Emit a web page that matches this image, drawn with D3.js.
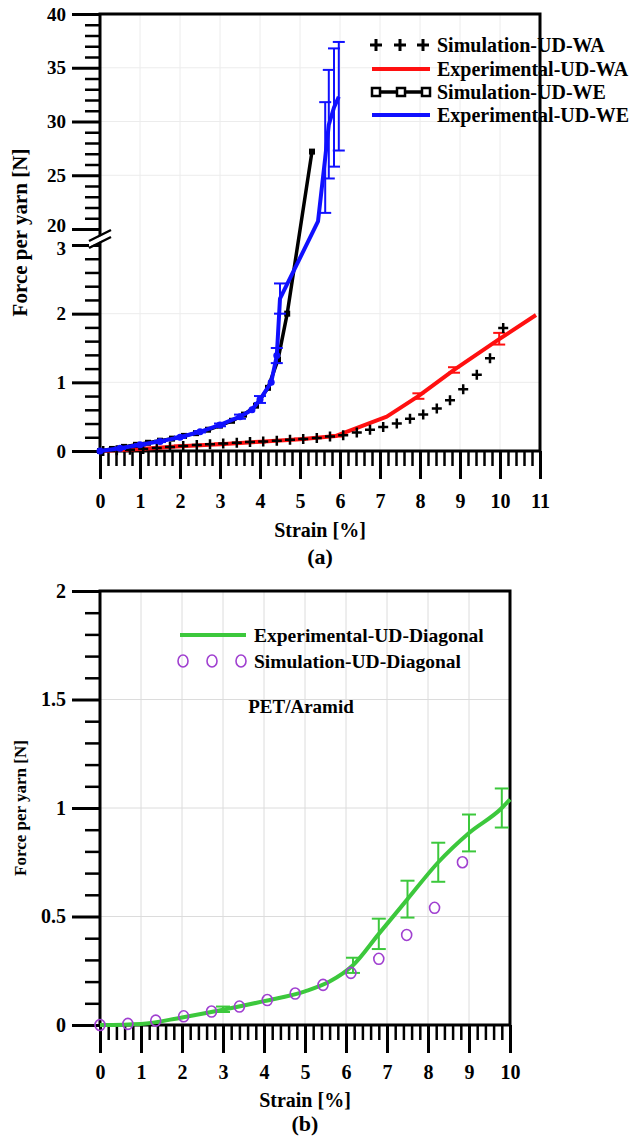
<!DOCTYPE html>
<html>
<head>
<meta charset="utf-8">
<script src="https://cdn.jsdelivr.net/npm/d3@7"></script>
<style>
  body { margin: 0; background: #fff; }
  svg { display: block; }
  text { font-family: "Liberation Serif", "Times New Roman", serif; font-weight: bold; fill: #000; }
</style>
</head>
<body>
<svg id="chart" width="633" height="1136"></svg>
<script>
// ---- panel (a) data ----
const waSimStrain = [0.08, 0.42, 0.75, 1.08, 1.42, 1.75, 2.08, 2.42, 2.75, 3.08, 3.42, 3.75, 4.08, 4.42, 4.75, 5.08, 5.42, 5.75, 6.08, 6.42, 6.75, 7.08, 7.42, 7.75, 8.08, 8.42, 8.75, 9.08, 9.42, 9.75, 10.08];
const waSimForce  = [0, 0.01, 0.02, 0.03, 0.045, 0.06, 0.073, 0.087, 0.097, 0.11, 0.12, 0.13, 0.14, 0.15, 0.165, 0.175, 0.19, 0.21, 0.23, 0.27, 0.31, 0.35, 0.40, 0.47, 0.53, 0.62, 0.74, 0.90, 1.11, 1.35, 1.79];

const waExpStrain = [0, 1, 2, 3, 4, 5, 5.9, 7.17, 7.96, 8.85, 9.98, 10.9];
const waExpForce  = [0, 0.03, 0.07, 0.1, 0.135, 0.17, 0.22, 0.5, 0.8, 1.18, 1.63, 1.98];
const waExpErr = [[1, 0.02, 0.04], [2, 0.06, 0.08], [3, 0.09, 0.11], [4, 0.125, 0.145], [5, 0.16, 0.18], [5.9, 0.21, 0.23],
                  [7.96, 0.76, 0.84], [8.85, 1.14, 1.22], [9.98, 1.55, 1.72]];

const weSimStrain = [0, 0.3, 0.6, 0.9, 1.2, 1.5, 1.8, 2.1, 2.4, 2.7, 3.0, 3.3, 3.6, 3.9, 4.2, 4.45, 4.68, 5.3];
const weSimForce  = [0, 0.03, 0.06, 0.09, 0.12, 0.15, 0.18, 0.22, 0.26, 0.31, 0.37, 0.44, 0.53, 0.66, 0.92, 1.33, 2.0, 27.2];

const weExpStrain = [0, 0.5, 1, 1.5, 2, 2.5, 3, 3.5, 3.8, 4.0, 4.28, 4.42, 4.5, 5.45, 5.63, 5.72, 5.85, 5.97];
const weExpForce  = [0, 0.04, 0.09, 0.14, 0.2, 0.28, 0.38, 0.5, 0.6, 0.75, 1.0, 1.39, 2.22, 20.7, 26.6, 29.7, 31.3, 32.3];
const weExpErr = [[0.5, 0.03, 0.05], [1, 0.08, 0.1], [1.5, 0.13, 0.15], [2, 0.19, 0.21], [2.5, 0.27, 0.29], [3, 0.36, 0.4],
                  [3.5, 0.47, 0.53], [4.0, 0.7, 0.8], [4.42, 1.28, 1.5], [4.5, 2.0, 2.44],
                  [5.63, 21.5, 31.8], [5.72, 24.7, 34.8], [5.85, 25.8, 36.8], [5.97, 27.3, 37.4]];

const legendA = ["Simulation-UD-WA", "Experimental-UD-WA", "Simulation-UD-WE", "Experimental-UD-WE"];
const yMajorA = [0, 1, 2, 3, 20, 25, 30, 35, 40];

// ---- panel (b) data ----
const diagExpStrain = [0, 1, 2, 3, 4, 5, 5.6, 6.17, 6.8, 7.5, 8.25, 9.0, 9.8, 10];
const diagExpForce  = [0, 0.005, 0.035, 0.07, 0.11, 0.155, 0.2, 0.275, 0.42, 0.58, 0.75, 0.885, 1.0, 1.04];
const diagExpErr = [[3.0, 0.06, 0.085], [6.17, 0.24, 0.31], [6.8, 0.35, 0.49], [7.5, 0.495, 0.665],
                    [8.25, 0.66, 0.84], [9.0, 0.8, 0.97], [9.8, 0.91, 1.09]];

const diagSimStrain = [0, 0.68, 1.36, 2.04, 2.72, 3.4, 4.08, 4.76, 5.44, 6.12, 6.8, 7.48, 8.16, 8.84];
const diagSimForce  = [0, 0.005, 0.02, 0.04, 0.062, 0.085, 0.115, 0.145, 0.185, 0.24, 0.305, 0.415, 0.54, 0.75];

const legendB = ["Experimental-UD-Diagonal", "Simulation-UD-Diagonal"];
const yMajorB = [0, 0.5, 1, 1.5, 2];

const RED = "#ff1010", BLUE = "#1010ff", GREEN = "#3cc83c", PURPLE = "#a040d0";
const FONT = "'Liberation Serif', 'Times New Roman', serif";

const svg = d3.select("#chart");
svg.append("rect").attr("width", 633).attr("height", 1136).attr("fill", "#fff");

const zip = (xs, ys) => xs.map((x, i) => [x, ys[i]]);

function styleAxis(g, width) {
  g.attr("font-family", null).attr("font-size", null);
  g.select(".domain").remove();
  g.selectAll(".tick line").attr("stroke", "#000").attr("stroke-width", width);
  g.selectAll(".tick text").style("font-family", FONT).style("font-size", "20px");
}

function errorBars(g, x, y, rows, color, cap) {
  rows.forEach(([sx, lo, hi]) => {
    const px = x(sx);
    g.append("line").attr("x1", px).attr("x2", px).attr("y1", y(lo)).attr("y2", y(hi))
      .attr("stroke", color).attr("stroke-width", 2);
    [lo, hi].forEach(v => g.append("line").attr("x1", px - cap).attr("x2", px + cap)
      .attr("y1", y(v)).attr("y2", y(v)).attr("stroke", color).attr("stroke-width", 2));
  });
}

function plusMark(g, cx, cy, s, w) {
  g.append("path").attr("d", `M${cx - s},${cy}H${cx + s}M${cx},${cy - s}V${cy + s}`)
    .attr("stroke", "#000").attr("stroke-width", w).attr("fill", "none");
}

// ================= panel (a) =================
const xA = d3.scaleLinear().domain([0, 11]).range([100, 540]);
const yA = d3.scaleLinear().domain([0, 3, 20, 40]).range([451, 245, 229, 14]);
const gA = svg.append("g");

// grid
const gridA = gA.append("g").attr("stroke", "#ececec").attr("stroke-width", 1);
d3.range(1, 11).forEach(v => gridA.append("line").attr("x1", xA(v)).attr("x2", xA(v)).attr("y1", yA(0)).attr("y2", yA(40)));
[1, 2, 25, 30, 35].forEach(v => gridA.append("line").attr("x1", xA(0)).attr("x2", xA(11)).attr("y1", yA(v)).attr("y2", yA(v)));

// axes
const yMinorA = d3.range(0.2, 3, 0.2).filter(v => Math.abs(v - Math.round(v)) > 0.01)
  .concat(d3.range(21, 40).filter(v => v % 5 !== 0));
gA.append("g").attr("transform", "translate(100,0)")
  .call(d3.axisLeft(yA).tickValues(yMinorA).tickSize(15).tickFormat(""))
  .call(g => styleAxis(g, 2.5));
const yAxisA = gA.append("g").attr("transform", "translate(100,0)")
  .call(d3.axisLeft(yA).tickValues(yMajorA).tickSize(28).tickPadding(6).tickFormat(d3.format("~g")))
  .call(g => styleAxis(g, 3));
// keep the labels on both sides of the break apart
yAxisA.selectAll(".tick text").style("font-size", "19px")
  .attr("dy", d => d === 20 ? "0.15em" : d === 3 ? "0.5em" : "0.32em");
const xMinorA = d3.range(0.2, 11, 0.2).filter(v => Math.abs(v - Math.round(v)) > 0.01);
gA.append("g").attr("transform", "translate(0,451)")
  .call(d3.axisBottom(xA).tickValues(xMinorA).tickSize(15).tickFormat(""))
  .call(g => styleAxis(g, 2.5));
gA.append("g").attr("transform", "translate(0,451)")
  .call(d3.axisBottom(xA).tickValues(d3.range(0, 12)).tickSize(28).tickPadding(15))
  .call(g => styleAxis(g, 3));

// frame
gA.append("path").attr("d", `M${xA(0)},${yA(0)}V${yA(40)}H${xA(11)}V${yA(0)}H${xA(0)}`)
  .attr("fill", "none").attr("stroke", "#000").attr("stroke-width", 3);

// axis break marks
gA.append("path").attr("d", "M89,242L111,231L111,236L89,247Z").attr("fill", "#fff");
gA.append("path").attr("d", "M89,241L111,230M89,248L111,237").attr("stroke", "#000").attr("stroke-width", 2.5);

// series
const lineA = d3.line().x(d => xA(d[0])).y(d => yA(d[1]));
gA.append("path").datum(zip(waExpStrain, waExpForce)).attr("d", lineA)
  .attr("fill", "none").attr("stroke", RED).attr("stroke-width", 4).attr("stroke-linejoin", "round");
errorBars(gA, xA, yA, waExpErr, RED, 6);
zip(waSimStrain, waSimForce).forEach(d => plusMark(gA, xA(d[0]), yA(d[1]), 5, 2.5));

gA.append("path").datum(zip(weSimStrain, weSimForce)).attr("d", lineA)
  .attr("fill", "none").attr("stroke", "#000").attr("stroke-width", 3.5);
zip(weSimStrain, weSimForce).forEach(d => gA.append("rect")
  .attr("x", xA(d[0]) - 3).attr("y", yA(d[1]) - 3).attr("width", 6).attr("height", 6)
  .attr("fill", "#000"));

gA.append("path").datum(zip(weExpStrain, weExpForce)).attr("d", lineA)
  .attr("fill", "none").attr("stroke", BLUE).attr("stroke-width", 4).attr("stroke-linejoin", "round");
errorBars(gA, xA, yA, weExpErr, BLUE, 6);
zip(weExpStrain, weExpForce).slice(0, 12).forEach(d => gA.append("circle")
  .attr("cx", xA(d[0])).attr("cy", yA(d[1])).attr("r", 3.5).attr("fill", BLUE));

// legend (a)
const legA = gA.append("g");
const rowsA = [45, 69, 92, 115];
legendA.forEach((t, i) => legA.append("text").attr("x", 437).attr("y", rowsA[i]).attr("dy", "0.35em")
  .style("font-size", "20px").text(t));
[376, 400, 423].forEach(x => plusMark(legA, x, rowsA[0], 6, 3));
legA.append("line").attr("x1", 372).attr("x2", 430).attr("y1", rowsA[1]).attr("y2", rowsA[1])
  .attr("stroke", RED).attr("stroke-width", 4);
legA.append("line").attr("x1", 372).attr("x2", 430).attr("y1", rowsA[2]).attr("y2", rowsA[2])
  .attr("stroke", "#000").attr("stroke-width", 3.5);
[376, 401, 426].forEach(x => legA.append("rect").attr("x", x - 4).attr("y", rowsA[2] - 4)
  .attr("width", 8).attr("height", 8).attr("fill", "#fff").attr("stroke", "#000").attr("stroke-width", 2.5));
legA.append("line").attr("x1", 372).attr("x2", 430).attr("y1", rowsA[3]).attr("y2", rowsA[3])
  .attr("stroke", BLUE).attr("stroke-width", 4);

// titles (a)
gA.append("text").attr("transform", `translate(20,${(yA(0) + yA(40)) / 2}) rotate(-90)`)
  .attr("text-anchor", "middle").attr("dy", "0.35em").style("font-size", "21px").text("Force per yarn [N]");
gA.append("text").attr("x", 320).attr("y", 530).attr("text-anchor", "middle").attr("dy", "0.35em")
  .style("font-size", "20px").text("Strain [%]");
gA.append("text").attr("x", 320).attr("y", 556).attr("text-anchor", "middle").attr("dy", "0.35em")
  .style("font-size", "22px").text("(a)");

// ================= panel (b) =================
const xB = d3.scaleLinear().domain([0, 10]).range([100, 510]);
const yB = d3.scaleLinear().domain([0, 2]).range([1025, 591]);
const gB = svg.append("g");

const gridB = gB.append("g").attr("stroke", "#dcdcdc").attr("stroke-width", 1);
d3.range(1, 10).forEach(v => gridB.append("line").attr("x1", xB(v)).attr("x2", xB(v)).attr("y1", yB(0)).attr("y2", yB(2)));
[0.5, 1, 1.5].forEach(v => gridB.append("line").attr("x1", xB(0)).attr("x2", xB(10)).attr("y1", yB(v)).attr("y2", yB(v)));

const yMinorB = d3.range(0.1, 2, 0.1).filter(v => Math.abs(v * 2 - Math.round(v * 2)) > 0.01);
gB.append("g").attr("transform", "translate(100,0)")
  .call(d3.axisLeft(yB).tickValues(yMinorB).tickSize(15).tickFormat(""))
  .call(g => styleAxis(g, 2.5));
gB.append("g").attr("transform", "translate(100,0)")
  .call(d3.axisLeft(yB).tickValues(yMajorB).tickSize(28).tickPadding(6).tickFormat(d3.format("~g")))
  .call(g => styleAxis(g, 3));
const xMinorB = d3.range(0.2, 10, 0.2).filter(v => Math.abs(v - Math.round(v)) > 0.01);
gB.append("g").attr("transform", "translate(0,1025)")
  .call(d3.axisBottom(xB).tickValues(xMinorB).tickSize(15).tickFormat(""))
  .call(g => styleAxis(g, 2.5));
gB.append("g").attr("transform", "translate(0,1025)")
  .call(d3.axisBottom(xB).tickValues(d3.range(0, 11)).tickSize(28).tickPadding(12))
  .call(g => styleAxis(g, 3));

gB.append("path").attr("d", `M${xB(0)},${yB(0)}V${yB(2)}H${xB(10)}V${yB(0)}H${xB(0)}`)
  .attr("fill", "none").attr("stroke", "#000").attr("stroke-width", 3);

const lineB = d3.line().x(d => xB(d[0])).y(d => yB(d[1])).curve(d3.curveMonotoneX);
gB.append("path").datum(zip(diagExpStrain, diagExpForce)).attr("d", lineB)
  .attr("fill", "none").attr("stroke", GREEN).attr("stroke-width", 4);
errorBars(gB, xB, yB, diagExpErr, GREEN, 7);
zip(diagSimStrain, diagSimForce).forEach(d => gB.append("ellipse")
  .attr("cx", xB(d[0])).attr("cy", yB(d[1])).attr("rx", 5).attr("ry", 5.5)
  .attr("fill", "none").attr("stroke", PURPLE).attr("stroke-width", 1.6));

// legend (b)
const legB = gB.append("g");
const rowsB = [635, 661];
legB.append("line").attr("x1", 180).attr("x2", 246).attr("y1", rowsB[0]).attr("y2", rowsB[0])
  .attr("stroke", GREEN).attr("stroke-width", 4);
[183, 212, 241].forEach(x => legB.append("ellipse").attr("cx", x).attr("cy", rowsB[1])
  .attr("rx", 5).attr("ry", 6).attr("fill", "none").attr("stroke", PURPLE).attr("stroke-width", 1.6));
legendB.forEach((t, i) => legB.append("text").attr("x", 254).attr("y", rowsB[i]).attr("dy", "0.35em")
  .style("font-size", "19.5px").text(t));
gB.append("text").attr("x", 301).attr("y", 706).attr("text-anchor", "middle").attr("dy", "0.35em")
  .style("font-size", "19px").text("PET/Aramid");

gB.append("text").attr("transform", `translate(20,${(yB(0) + yB(2)) / 2}) rotate(-90)`)
  .attr("text-anchor", "middle").attr("dy", "0.35em").style("font-size", "17px").text("Force per yarn [N]");
gB.append("text").attr("x", 305).attr("y", 1100).attr("text-anchor", "middle").attr("dy", "0.35em")
  .style("font-size", "20px").text("Strain [%]");
gB.append("text").attr("x", 305).attr("y", 1123).attr("text-anchor", "middle").attr("dy", "0.35em")
  .style("font-size", "22px").text("(b)");
</script>
</body>
</html>
